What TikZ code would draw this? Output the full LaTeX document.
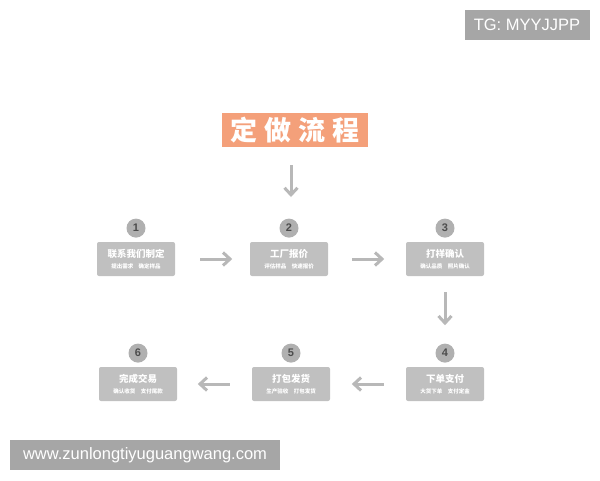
\documentclass[tikz,border=0pt]{standalone}
\usepackage{fontspec}
\setsansfont{Liberation Sans}
\newfontfamily\cjk{Noto Sans CJK SC}
\usetikzlibrary{positioning, arrows.meta}
\definecolor{titleorange}{HTML}{F4A07A}
\definecolor{stepgray}{HTML}{C0C0C0}
\definecolor{dotgray}{HTML}{B0B0B0}
\definecolor{arrowgray}{HTML}{B8B8B8}
\definecolor{markgray}{HTML}{A6A6A6}
\tikzset{
  x=1pt, y=-1pt,
  % Set arrowhead
  >={Straight Barb[length=7pt, width=13pt]},
  % Title box
  titlebox/.style={fill=titleorange, text=white, font=\cjk\bfseries\fontsize{27}{27}\selectfont,
    minimum width=146pt, minimum height=34pt, inner sep=0pt},
  % Step box
  stepbox/.style={fill=stepgray, text=white, rounded corners=2pt, align=center,
    minimum width=78pt, minimum height=34pt, inner sep=0pt, font=\cjk\bfseries},
  % Number dot
  numdot/.style={fill=dotgray, shape=circle, minimum size=19pt, inner sep=0pt,
    text=black!70, font=\sffamily\bfseries\fontsize{11}{11}\selectfont},
  % Flow arrows
  flow/.style={->, draw=arrowgray, line width=3pt},
  % Watermark box
  wmark/.style={fill=markgray, text=white, inner sep=0pt, font=\sffamily\fontsize{16.5}{16.5}\selectfont},
}
\newcommand{\steptext}[2]{{\fontsize{9.5}{11}\selectfont #1}\\[-1pt]{\fontsize{5.5}{6}\selectfont #2}}

\begin{document}
\begin{tikzpicture}
  \useasboundingbox[fill=white] (0,0) rectangle (600,480);

  \node[titlebox] (title) at (295,130) {定\hspace{7pt}做\hspace{7pt}流\hspace{7pt}程};
  \coordinate (titlearr) at (291,165);
  \draw[flow] (titlearr) -- ++(0,32);

  % steps
  \node[stepbox] (s1) at (136,259) {\steptext{联系我们制定}{提出需求\quad 确定样品}};
  \node[stepbox] (s2) at (289,259) {\steptext{工厂报价}{评估样品\quad 快速报价}};
  \node[stepbox] (s3) at (445,259) {\steptext{打样确认}{确认品质\quad 照片确认}};
  \node[stepbox] (s4) at (445,384) {\steptext{下单支付}{大货下单\quad 支付定金}};
  \node[stepbox] (s5) at (291,384) {\steptext{打包发货}{生产验收\quad 打包发货}};
  \node[stepbox] (s6) at (138,384) {\steptext{完成交易}{确认收货\quad 支付尾款}};

  % numbers
  \foreach \i in {1,...,6}
    \node[numdot, above=4pt of s\i] (n\i) {\i};

  % arrows between steps
  \draw[flow] ([xshift=25pt]s1.east) -- ([xshift=57pt]s1.east);
  \draw[flow] ([xshift=24pt]s2.east) -- ([xshift=56pt]s2.east);
  \draw[flow] ([yshift=-16pt]s3.south) -- ([yshift=-49pt]s3.south);
  \draw[flow] ([xshift=-22pt]s4.west) -- ([xshift=-54pt]s4.west);
  \draw[flow] ([xshift=-22pt]s5.west) -- ([xshift=-54pt]s5.west);

  % watermarks
  \node[wmark, minimum width=125pt, minimum height=30pt] (tg) at (527,25) {TG: MYYJJPP};
  \node[wmark, minimum width=270pt, minimum height=30pt] (www) at (145,455) {www.zunlongtiyuguangwang.com};
\end{tikzpicture}
\end{document}
